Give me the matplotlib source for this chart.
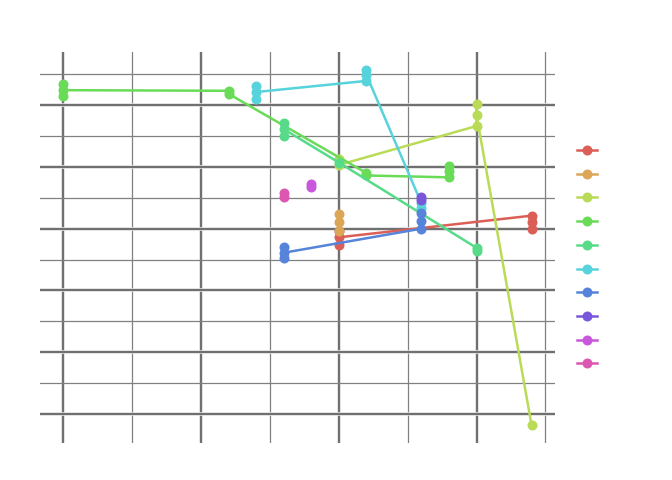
import numpy as np
import matplotlib
matplotlib.use('Agg')
import matplotlib.pyplot as plt
import matplotlib.patheffects as pe
from matplotlib.lines import Line2D
from matplotlib.ticker import MultipleLocator

# one entry per hue group, points listed in the order the line visits them
colors = ['#db5f57', '#dba757', '#b9db57', '#69db57', '#57db88',
          '#57d3db', '#5784db', '#7957db', '#c957db', '#db57b1']

red_x = [10, 10, 10, 17, 17, 17]
red_y = [29.7, 27.3, 28.6, 32.1, 31.0, 29.9]

orange_x = [10, 10, 10]
orange_y = [32.3, 31.0, 29.7]

lime_x = [10, 10, 15, 15, 15, 17]
lime_y = [41.2, 40.3, 46.6, 50.2, 48.4, -1.8]

green_x = [0, 0, 0, 6, 6, 11, 11, 14, 14, 14]
green_y = [53.4, 51.5, 52.4, 52.3, 51.8, 39.0, 38.6, 38.3, 39.3, 40.1]

teal_x = [8, 8, 8, 10, 15, 15]
teal_y = [47.1, 45.0, 46.1, 40.7, 26.9, 26.4]

cyan_x = [7, 7, 7, 11, 11, 11, 13, 13]
cyan_y = [53.1, 51.0, 52.1, 53.9, 55.7, 54.9, 34.1, 33.3]

blue_x = [8, 8, 8, 13, 13, 13]
blue_y = [27.1, 25.3, 26.1, 30.0, 31.3, 32.5]

purple_x = [13, 13]
purple_y = [35.2, 34.7]

magenta_x = [9, 9]
magenta_y = [37.2, 36.7]

pink_x = [8, 8]
pink_y = [35.7, 35.2]

series = [(red_x, red_y), (orange_x, orange_y), (lime_x, lime_y),
          (green_x, green_y), (teal_x, teal_y), (cyan_x, cyan_y),
          (blue_x, blue_y), (purple_x, purple_y), (magenta_x, magenta_y),
          (pink_x, pink_y)]

fig = plt.figure(figsize=(6.72, 4.8), dpi=100)
ax = fig.add_axes([40 / 672, 37 / 480, 515 / 672, 391 / 480])

for (xs, ys), c in zip(series, colors):
    ax.plot(xs, ys, color=c, lw=1.8, marker='o', ms=7.2, mec=c, mew=0)

ax.xaxis.set_major_locator(MultipleLocator(5))
ax.xaxis.set_minor_locator(MultipleLocator(2.5))
ax.yaxis.set_major_locator(MultipleLocator(10))
ax.yaxis.set_minor_locator(MultipleLocator(5))
ax.grid(which='major', color='#505050', lw=1.1,
        path_effects=[pe.withStroke(linewidth=2.6, foreground='#dddddd')])
ax.grid(which='minor', color='#808080', lw=0.9)
ax.set_axisbelow(True)
ax.tick_params(which='both', length=0, labelbottom=False, labelleft=False)
for s in ax.spines.values():
    s.set_visible(False)

handles = [Line2D([], [], color=c, lw=1.8, marker='o', ms=7.2, mew=0) for c in colors]
fig.legend(handles, [''] * len(colors), loc='center left',
           bbox_to_anchor=(577 / 672, 222.5 / 480), frameon=False,
           borderpad=0, borderaxespad=0, handlelength=1.45,
           labelspacing=0.7, fontsize=10)

plt.savefig('out.png', dpi=100)
